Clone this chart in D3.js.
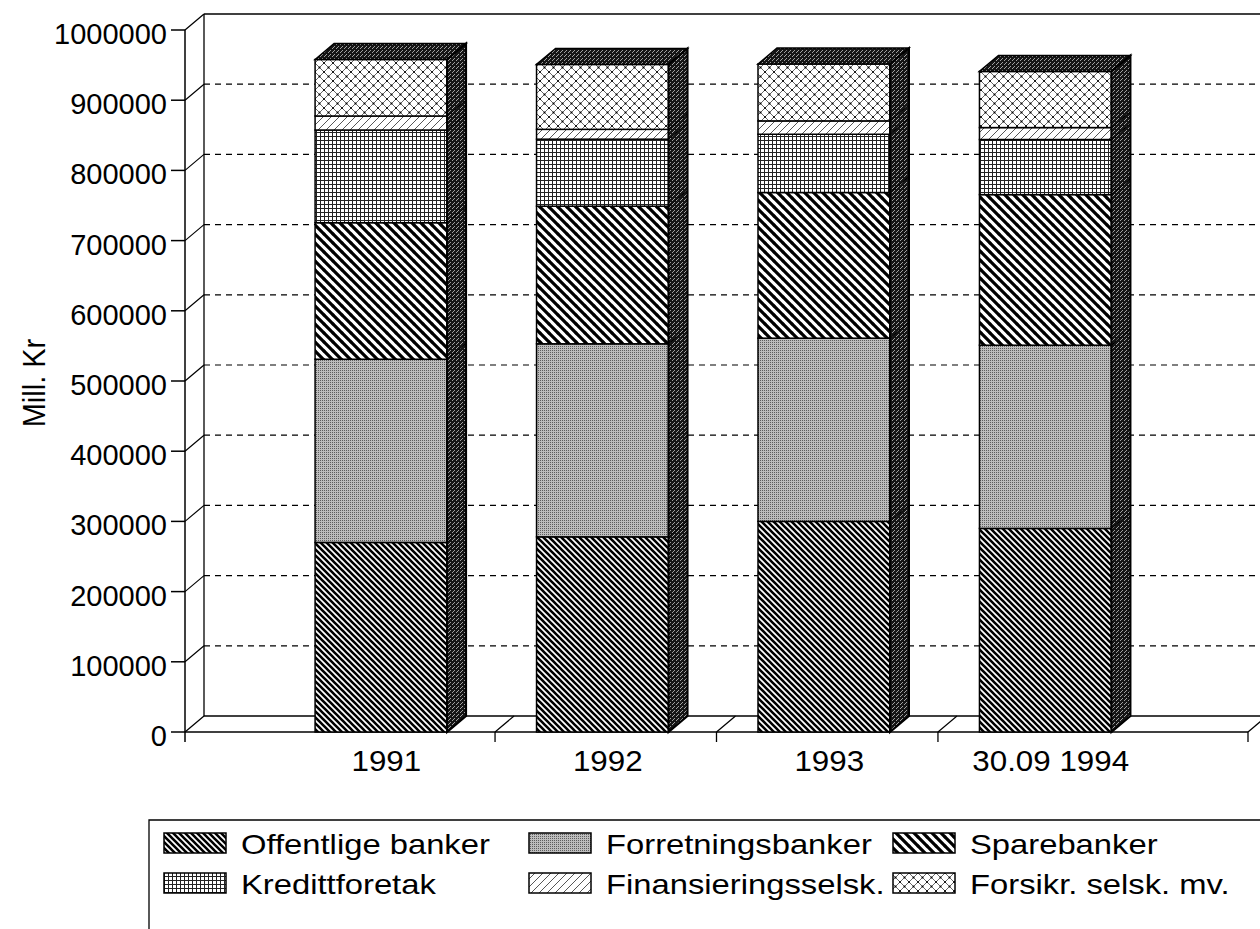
<!DOCTYPE html>
<html>
<head>
<meta charset="utf-8">
<script src="https://cdn.jsdelivr.net/npm/d3@7"></script>
<style>
  html, body { margin: 0; padding: 0; background: #fff; }
  svg { display: block; }
  text { font-family: "Liberation Sans", Arial, Helvetica, sans-serif; fill: #000; }
</style>
</head>
<body>
<svg id="chart" width="1260" height="929"></svg>
<script>
// ---- data ----
const categories = ["1991", "1992", "1993", "30.09 1994"];
const seriesNames = ["Offentlige banker", "Forretningsbanker", "Sparebanker",
                     "Kredittforetak", "Finansieringsselsk.", "Forsikr. selsk. mv."];
const offentligeBanker   = [270000, 278000, 300000, 290000];
const forretningsbanker  = [261000, 275000, 261000, 261000];
const sparebanker        = [194500, 196000, 207500, 214500];
const kredittforetak     = [132000,  95500,  83000,  78500];
const finansieringsselsk = [ 20000,  14000,  19000,  17000];
const forsikrSelsk       = [ 80500,  92500,  81000,  80000];
const yTicks = [0, 100000, 200000, 300000, 400000, 500000, 600000, 700000, 800000, 900000, 1000000];
const yTitle = "Mill. Kr";

// ---- build table ----
const seriesValues = [offentligeBanker, forretningsbanker, sparebanker, kredittforetak, finansieringsselsk, forsikrSelsk];
const table = categories.map((c, i) => {
  const row = { cat: c };
  seriesNames.forEach((s, j) => { row[s] = seriesValues[j][i]; });
  return row;
});
const stacked = d3.stack().keys(seriesNames)(table);

// ---- layout ----
const svg = d3.select("#chart");
const W = 1260;
const DX = 19, DY = -16;          // 3-D depth offset
const frontLeft = 185, frontRight = 1248;
const y = d3.scaleLinear().domain([0, 1000000]).range([732, 30]);
const x = d3.scaleBand().domain(categories).range([frontLeft, frontRight]).paddingInner(0).paddingOuter(0.4);
const barW = 132, barOff = 41.5;
const AX_FS = 29, LG_FS = 28, LG_SX = 1.17, XL_SX = 1.08;

// ---- patterns ----
const defs = svg.append("defs");
function pattern(id, w, h) {
  return defs.append("pattern").attr("id", id).attr("patternUnits", "userSpaceOnUse")
    .attr("width", w).attr("height", h);
}
// Offentlige: dense "\" stripes
let p = pattern("p0", 6, 6);
p.append("rect").attr("width", 6).attr("height", 6).attr("fill", "#fff");
p.append("path").attr("d", "M-1,-1L7,7M-1,5L1,7M5,-1L7,1").attr("stroke", "#000").attr("stroke-width", 2.6);
// Forretningsbanker: gray stipple
p = pattern("p1", 2, 2);
p.append("rect").attr("width", 2).attr("height", 2).attr("fill", "#bdbdbd");
p.append("rect").attr("width", 1).attr("height", 1).attr("fill", "#5e5e5e");
// Sparebanker: wide "\" stripes
p = pattern("p2", 9, 9);
p.append("rect").attr("width", 9).attr("height", 9).attr("fill", "#fff");
p.append("path").attr("d", "M-1,-1L10,10M-1,8L1,10M8,-1L10,1").attr("stroke", "#000").attr("stroke-width", 3.2);
// Kredittforetak: fine grid
p = pattern("p3", 4, 4);
p.append("rect").attr("width", 4).attr("height", 4).attr("fill", "#fff");
p.append("path").attr("d", "M0,0.5H4M0.5,0V4").attr("stroke", "#222").attr("stroke-width", 1).attr("shape-rendering", "crispEdges");
// Finansieringsselsk: thin "/" lines
p = pattern("p4", 8, 8);
p.append("rect").attr("width", 8).attr("height", 8).attr("fill", "#fff");
p.append("path").attr("d", "M-1,9L9,-1M-1,1L1,-1M7,9L9,7").attr("stroke", "#444").attr("stroke-width", 0.9);
// Forsikr: diagonal crosshatch with dots
p = pattern("p5", 9, 9);
p.append("rect").attr("width", 9).attr("height", 9).attr("fill", "#fff");
p.append("path").attr("d", "M-1,-1L10,10M-1,10L10,-1").attr("stroke", "#222").attr("stroke-width", 0.7);
[[4.5, 4.5], [0, 0], [9, 0], [0, 9], [9, 9]].forEach(d => p.append("circle").attr("cx", d[0]).attr("cy", d[1]).attr("r", 1).attr("fill", "#000"));
// dark side / top
p = pattern("pd", 4, 4);
p.append("rect").attr("width", 4).attr("height", 4).attr("fill", "#151515");
[[0, 0], [2, 2], [1, 3]].forEach(d => p.append("rect").attr("x", d[0]).attr("y", d[1]).attr("width", 1).attr("height", 1).attr("fill", "#a0a0a0"));

const fills = ["url(#p0)", "url(#p1)", "url(#p2)", "url(#p3)", "url(#p4)", "url(#p5)"];

// ---- walls, grid, floor ----
const g = svg.append("g").attr("fill", "none").attr("stroke", "#000");
const backX0 = frontLeft + DX;
g.selectAll("line.grid").data(yTicks.filter(v => v > 0 && v < 1000000)).enter().append("line")
  .attr("x1", backX0).attr("x2", W).attr("y1", d => y(d) + DY).attr("y2", d => y(d) + DY)
  .attr("stroke-width", 1.2).attr("stroke-dasharray", "6,5");
g.append("line").attr("x1", backX0).attr("x2", W).attr("y1", y(1000000) + DY).attr("y2", y(1000000) + DY).attr("stroke-width", 1.3);
g.append("line").attr("x1", backX0).attr("x2", W).attr("y1", y(0) + DY).attr("y2", y(0) + DY).attr("stroke-width", 1.3);
g.append("line").attr("x1", backX0).attr("x2", backX0).attr("y1", y(1000000) + DY).attr("y2", y(0) + DY).attr("stroke-width", 1.3);
g.selectAll("line.ld").data(yTicks).enter().append("line")
  .attr("x1", frontLeft).attr("y1", d => y(d)).attr("x2", backX0).attr("y2", d => y(d) + DY).attr("stroke-width", 1.2);
g.append("line").attr("x1", frontLeft).attr("x2", frontLeft).attr("y1", y(1000000)).attr("y2", y(0) + 10).attr("stroke-width", 1.5);
g.selectAll("line.yt").data(yTicks).enter().append("line")
  .attr("x1", frontLeft - 14).attr("x2", frontLeft).attr("y1", d => y(d)).attr("y2", d => y(d)).attr("stroke-width", 1.5);
g.append("line").attr("x1", frontLeft).attr("x2", frontRight).attr("y1", y(0)).attr("y2", y(0)).attr("stroke-width", 1.5);
const seps = [frontLeft].concat(categories.slice(1).map(c => x(c))).concat([frontRight]);
seps.forEach((sx, i) => {
  if (i > 0) {
    g.append("line").attr("x1", sx).attr("x2", sx).attr("y1", y(0)).attr("y2", y(0) + 10).attr("stroke-width", 1.3);
    g.append("line").attr("x1", sx).attr("y1", y(0)).attr("x2", sx + DX).attr("y2", y(0) + DY).attr("stroke-width", 1.2);
  }
});

// ---- bars ----
const bars = svg.append("g");
categories.forEach((c, ci) => {
  const xl = x(c) + barOff, xr = xl + barW;
  const bg = bars.append("g");
  stacked.forEach((s, si) => {
    const d = s[ci];
    const yt = y(d[1]), yb = y(d[0]);
    bg.append("rect").attr("x", xl).attr("y", yt).attr("width", barW).attr("height", yb - yt)
      .attr("fill", fills[si]).attr("stroke", "#000").attr("stroke-width", 1.5);
    bg.append("path")
      .attr("d", `M${xr},${yb}L${xr},${yt}L${xr + DX},${yt + DY}L${xr + DX},${yb + DY}Z`)
      .attr("fill", "url(#pd)").attr("stroke", "#000").attr("stroke-width", 1);
  });
  const top = y(stacked[stacked.length - 1][ci][1]);
  const bottom = y(0);
  bg.append("path")
    .attr("d", `M${xl},${top}L${xl + DX},${top + DY}L${xr + DX},${top + DY}L${xr},${top}Z`)
    .attr("fill", "url(#pd)").attr("stroke", "#000").attr("stroke-width", 1.5);
  bg.append("path")
    .attr("d", `M${xr},${bottom}L${xr},${top}L${xr + DX},${top + DY}L${xr + DX},${bottom + DY}Z`)
    .attr("fill", "none").attr("stroke", "#000").attr("stroke-width", 2);
});

// ---- text ----
function stretchedText(parent, tx, ty, str, fs, sx, anchor) {
  return parent.append("g").attr("transform", `translate(${tx},${ty}) scale(${sx},1)`)
    .append("text").attr("font-size", fs).attr("text-anchor", anchor).text(str);
}
const tg = svg.append("g");
yTicks.forEach(v => stretchedText(tg, frontLeft - 18, y(v) + 14, d3.format("d")(v), AX_FS, 1.0, "end"));
categories.forEach(c => stretchedText(tg, x(c) + x.bandwidth() / 2 + 2, 771, c, AX_FS, XL_SX, "middle"));
tg.append("g").attr("transform", `translate(45,383) scale(1.1,1) rotate(-90)`)
  .append("text").attr("font-size", AX_FS).attr("text-anchor", "middle").text(yTitle);

// ---- legend ----
const lg = svg.append("g");
lg.append("path").attr("d", "M149,929V820H1260").attr("fill", "none").attr("stroke", "#000").attr("stroke-width", 1.3);
const colX = [164, 529, 893], rowY = [833, 873];
seriesNames.forEach((s, i) => {
  const cx = colX[i % 3], ry = rowY[Math.floor(i / 3)];
  lg.append("rect").attr("x", cx).attr("y", ry).attr("width", 62).attr("height", 20)
    .attr("fill", fills[i]).attr("stroke", "#000").attr("stroke-width", 1.5);
  stretchedText(lg, cx + 62 + 15, ry + 21, s, LG_FS, LG_SX, "start");
});
</script>
</body>
</html>
